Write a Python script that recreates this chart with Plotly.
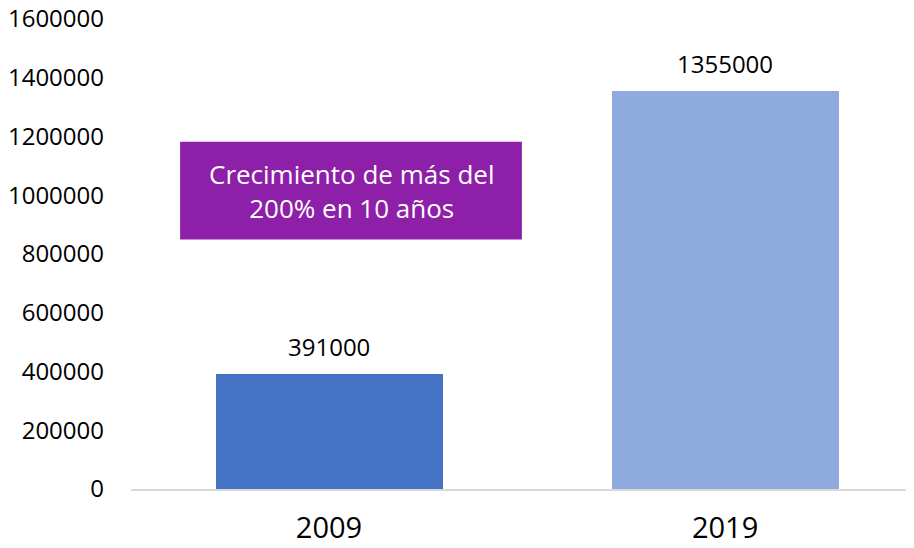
import plotly.graph_objects as go

# ------------------------------------------------------------
# DATOS
# ------------------------------------------------------------
anios = ["2009", "2019"]
valores = [391000, 1355000]
colores = ["#4472C4", "#8FAADC"]
ticks_y = [0, 200000, 400000, 600000, 800000, 1000000, 1200000, 1400000, 1600000]
nota = "Crecimiento de más del<br>200% en 10 años"

FUENTE = "Open Sans"

fig = go.Figure()
fig.add_trace(go.Bar(
    x=anios, y=valores, marker=dict(color=colores, line=dict(width=0)),
    width=0.573, hoverinfo="skip", showlegend=False,
))

# etiquetas de valor encima de cada barra (x por índice de categoría)
for i, v in enumerate(valores):
    fig.add_annotation(x=i, y=v, xref="x", yref="y", text=str(v), showarrow=False,
                       yanchor="bottom", yshift=9,
                       font=dict(family=FUENTE, size=24, color="#000000"))

# recuadro violeta con la nota
fig.add_shape(type="rect", xref="x", yref="y", x0=-0.376, x1=0.487, y0=849000, y1=1182000,
              fillcolor="#8E1FA8", line=dict(width=0), layer="above")
fig.add_annotation(x=0.0555, y=1015500, xref="x", yref="y", text=nota, showarrow=False,
                   align="center", font=dict(family=FUENTE, size=26, color="#FFFFFF"))

# la página añade 8px de margen al body: se compensa en los márgenes
fig.update_layout(
    width=914, height=548,
    margin=dict(l=123, r=8, t=11, b=67),
    paper_bgcolor="white", plot_bgcolor="white",
    font=dict(family=FUENTE, color="#000000"),
    bargap=0,
)
fig.update_xaxes(
    type="category", range=[-0.5, 1.477], automargin=False,
    showline=True, linecolor="#D9D9D9", linewidth=1.5,
    showgrid=False, ticks="", ticklabelstandoff=12, ticklabeloverflow="allow",
    tickfont=dict(family=FUENTE, size=29, color="#000000"),
)
fig.update_yaxes(
    range=[0, 1600000], tickvals=ticks_y, ticktext=[str(t) for t in ticks_y],
    showgrid=False, zeroline=False, showline=False, ticks="", automargin=False,
    ticklabelstandoff=26, ticklabeloverflow="allow",
    tickfont=dict(family=FUENTE, size=24, color="#000000"),
)

fig.write_html("out.html")
